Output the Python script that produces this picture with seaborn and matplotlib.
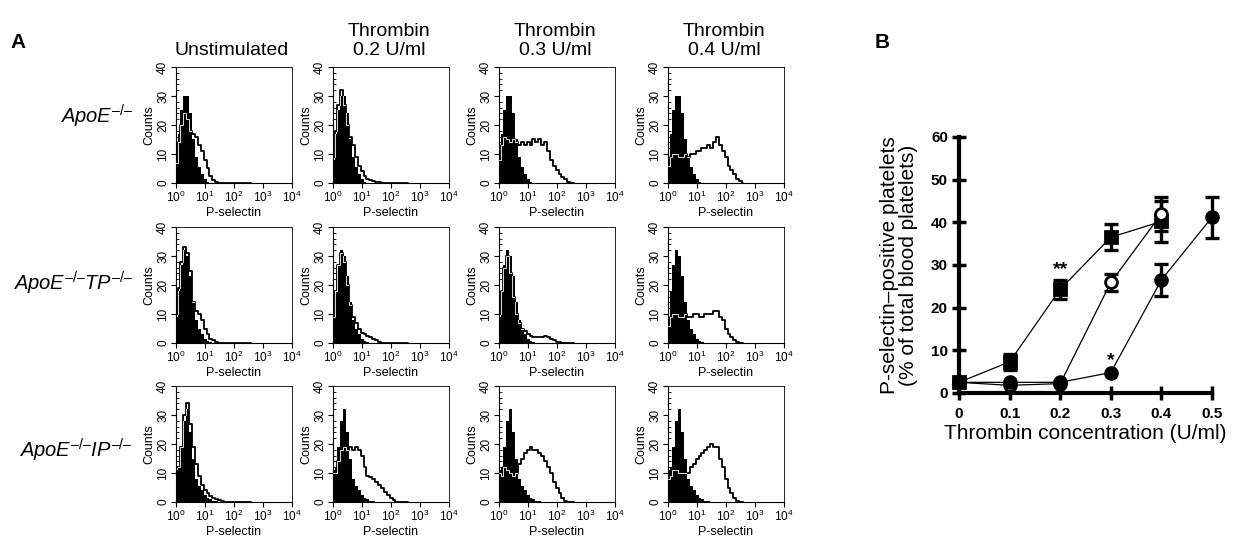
import numpy as np
import matplotlib
matplotlib.use("Agg")
import matplotlib.pyplot as plt
import matplotlib.ticker as mticker
import seaborn as sns

# flow histogram channels, log10 of P-selectin fluorescence
log_bins = [0.0, 0.1, 0.2, 0.3, 0.4, 0.5, 0.6, 0.7, 0.8, 0.9, 1.0, 1.1, 1.2, 1.3,
            1.4, 1.5, 1.6, 1.7, 1.8, 1.9, 2.0, 2.1, 2.2, 2.3, 2.4, 2.5, 2.6]

col_titles = ["Unstimulated", "Thrombin\n0.2 U/ml", "Thrombin\n0.3 U/ml", "Thrombin\n0.4 U/ml"]
row_labels = [r"$ApoE^{\mathrm{–/–}}$",
              r"$ApoE^{\mathrm{–/–}}TP^{\mathrm{–/–}}$",
              r"$ApoE^{\mathrm{–/–}}IP^{\mathrm{–/–}}$"]

# isotype control (filled) per genotype
ctrl_apoe = [8, 17, 25, 30, 30, 24, 15, 9, 5.5, 3, 1.5, 0.5]
ctrl_tp = [9, 18, 27, 32, 30, 23, 14, 8, 5, 3, 1.5, 0.8, 0.3]
ctrl_ip = [11, 12, 19, 28, 32, 24, 15, 8, 5.5, 4, 2.5, 1.5, 1, 0.5, 0.3]

# anti P-selectin (open) per genotype and thrombin dose
apoe_unstim = [7, 14, 20, 24, 22, 18, 17, 16, 13, 11, 8, 5, 2.5, 1, 0.3]
apoe_t02 = [9, 18, 27, 32, 27, 20, 16, 13, 9, 6, 4, 2.5, 1.5, 1, 0.8, 0.5, 0.2]
apoe_t03 = [8, 13, 16, 15, 14, 15, 14, 13, 14, 13, 14, 13, 15, 14, 15, 13, 14, 11,
            8, 6, 4.5, 3, 2, 1.5, 0.5]
apoe_t04 = [6, 9, 10, 10, 9, 9, 10, 9, 10, 10, 11, 11, 12, 12, 13, 12, 14, 16, 13,
            11, 9, 6, 4.5, 3, 1.5, 0.8]

tp_unstim = [10, 19, 28, 33, 31, 25, 14, 11, 10, 8, 5, 3, 1.5, 1, 0.3]
tp_t02 = [9, 18, 27, 31, 28, 20, 13, 9, 7, 5, 3.5, 3, 2.5, 2, 1.5, 1, 0.5]
tp_t03 = [10, 18, 26, 30, 24, 16, 10, 7, 5, 4, 3, 2.5, 2, 2, 2, 2, 2.5, 2, 1.5, 1,
          0.5, 0.3]
tp_t04 = [6, 9, 10, 10, 9, 9, 10, 9, 9, 10, 10, 9, 9, 10, 10, 10, 11, 11, 9, 8, 5,
          3, 2, 1, 0.3]

ip_unstim = [12, 12, 19, 30, 34, 27, 19, 13, 9, 6, 4, 3, 2, 1.5, 1, 0.7, 0.3]
ip_t02 = [10, 10, 14, 18, 19, 18, 19, 18, 19, 18, 16, 12, 9, 8.5, 8, 7, 6, 5, 3.5,
          2.5, 1.5, 0.7]
ip_t03 = [10, 9, 12, 11, 10, 9, 10, 13, 15, 17, 18, 19, 18, 18, 17, 16, 14, 12, 10,
          7, 5, 3, 1.5, 0.3]
ip_t04 = [8, 9, 11, 11, 10, 10, 10, 10, 12, 13, 15, 16, 17, 18, 19, 20, 19, 19, 15,
          12, 8, 5, 3, 1.5, 0.5]

hist_ctrl = [ctrl_apoe, ctrl_tp, ctrl_ip]
hist_stim = [[apoe_unstim, apoe_t02, apoe_t03, apoe_t04],
             [tp_unstim, tp_t02, tp_t03, tp_t04],
             [ip_unstim, ip_t02, ip_t03, ip_t04]]

# panel B: % P-selectin positive platelets vs thrombin dose
conc = [0, 0.1, 0.2, 0.3, 0.4, 0.5]
ip_mean = [2.5, 7.3, 24.3, 36.5, 40.2]
ip_err = [0, 1.9, 2.3, 3.0, 4.7]
apoe_mean = [2.5, 1.8, 2.2, 25.9, 42.0]
apoe_err = [0, 0, 0, 2.0, 4.0]
tp_mean = [2.5, 2.5, 2.5, 4.8, 26.5, 41.2]
tp_err = [0, 0, 0, 0, 3.8, 4.8]

sns.set_theme(style="ticks")
plt.rcParams["font.family"] = ["Liberation Sans", "DejaVu Sans"]
plt.rcParams["mathtext.fontset"] = "custom"
plt.rcParams["mathtext.rm"] = "Liberation Sans"
plt.rcParams["mathtext.it"] = "Liberation Sans:italic"
plt.rcParams["mathtext.bf"] = "Liberation Sans:bold"
for key in ["text.color", "axes.labelcolor", "xtick.color", "ytick.color", "axes.edgecolor"]:
    plt.rcParams[key] = "black"

W, H = 1234, 537
fig = plt.figure(figsize=(W / 100, H / 100), dpi=100)


def px_axes(left, top, width, height):
    return fig.add_axes([left / W, 1 - (top + height) / H, width / W, height / H])


def pad(vals):
    out = np.zeros(len(log_bins))
    out[:len(vals)] = vals
    return out


def draw_hist(ax, ctrl, stim):
    x = 10 ** np.array(log_bins)
    c = pad(ctrl)
    s = pad(stim)
    ax.step(x, s, where="mid", color="black", lw=1.3, zorder=2)
    fill = ax.fill_between(x, c, step="mid", color="black", lw=0, zorder=3)
    inner, = ax.step(x, s, where="mid", color="white", lw=0.6, zorder=4)
    inner.set_clip_path(fill.get_paths()[0], fill.get_transform())
    ax.set_xscale("log")
    ax.set_xlim(1, 1e4)
    ax.set_ylim(0, 40)
    ax.set_xticks([1, 10, 100, 1000, 10000])
    ax.xaxis.set_minor_locator(mticker.LogLocator(base=10, subs=np.arange(2, 10)))
    ax.xaxis.set_minor_formatter(mticker.NullFormatter())
    ax.set_yticks([0, 10, 20, 30, 40])
    ax.yaxis.set_minor_locator(mticker.MultipleLocator(2))
    ax.tick_params(which="major", direction="out", length=3.5, width=0.8,
                   labelsize=8.5, pad=1.5)
    ax.tick_params(which="minor", direction="in", length=1.8, width=0.6)
    ax.tick_params(axis="y", labelrotation=90)
    for lab in ax.get_yticklabels():
        lab.set_va("center")
    for sp in ax.spines.values():
        sp.set_linewidth(0.8)
    ax.spines["top"].set_linewidth(0.6)
    ax.spines["right"].set_linewidth(0.6)
    ax.set_xlabel("P-selectin", fontsize=9, labelpad=1)
    ax.set_ylabel("Counts", fontsize=9, labelpad=1)


col_left = [176, 333, 499, 668]
row_top = [67, 227, 386]
for r in range(3):
    for c in range(4):
        ax = px_axes(col_left[c], row_top[r], 116, 116)
        draw_hist(ax, hist_ctrl[r], hist_stim[r][c])

for c, title in enumerate(col_titles):
    fig.text((col_left[c] + 56) / W, 1 - 59 / H, title, ha="center", va="bottom",
             fontsize=14, linespacing=1.15)

row_label_y = [116, 283, 450]
for r, lab in enumerate(row_labels):
    fig.text(133 / W, 1 - row_label_y[r] / H, lab, ha="right", va="center", fontsize=14.5)

fig.text(10 / W, 1 - 42 / H, "A", fontsize=15, fontweight="bold", va="center")
fig.text(875 / W, 1 - 42 / H, "B", fontsize=15, fontweight="bold", va="center")

# panel B
axB = px_axes(959, 137, 253, 256)
series = [(ip_mean, ip_err, "s", "black"),
          (apoe_mean, apoe_err, "o", "white"),
          (tp_mean, tp_err, "o", "black")]
for mean, err, marker, face in series:
    xs = conc[:len(mean)]
    sns.lineplot(x=xs, y=mean, color="black", lw=0.9, ax=axB, zorder=2)
    keep = [i for i, e in enumerate(err) if e > 0]
    axB.errorbar([xs[i] for i in keep], [mean[i] for i in keep],
                 yerr=[err[i] for i in keep], fmt="none", ecolor="black",
                 elinewidth=2.4, capsize=5, capthick=2.4, zorder=3, clip_on=False)
    axB.plot(xs, mean, ls="none", marker=marker, ms=8.5, mfc=face, mec="black",
             mew=2, zorder=4, clip_on=False)

axB.text(conc[2], ip_mean[2] + ip_err[2] + 0.3, "**", ha="center", va="bottom",
         fontsize=14, fontweight="bold")
axB.text(conc[3], tp_mean[3] + 0.8, "*", ha="center", va="bottom",
         fontsize=14, fontweight="bold")

axB.set_xlim(0, 0.5)
axB.set_ylim(0, 60)
axB.set_xticks(conc)
axB.set_xticklabels(["0", "0.1", "0.2", "0.3", "0.4", "0.5"])
axB.set_yticks([0, 10, 20, 30, 40, 50, 60])
sns.despine(ax=axB)
for side in ["left", "bottom"]:
    axB.spines[side].set_linewidth(3)
axB.tick_params(direction="inout", length=10, width=2.5, labelsize=11)
axB.tick_params(axis="x", pad=5)
axB.tick_params(axis="y", pad=3)
for lab in axB.get_xticklabels() + axB.get_yticklabels():
    lab.set_fontweight("bold")
axB.set_xlabel("Thrombin concentration (U/ml)", fontsize=15, labelpad=2)
axB.set_ylabel("P-selectin\u2013positive platelets\n(% of total blood platelets)",
               fontsize=15, labelpad=9, linespacing=1.05)

fig.savefig("out.png", dpi=100)
